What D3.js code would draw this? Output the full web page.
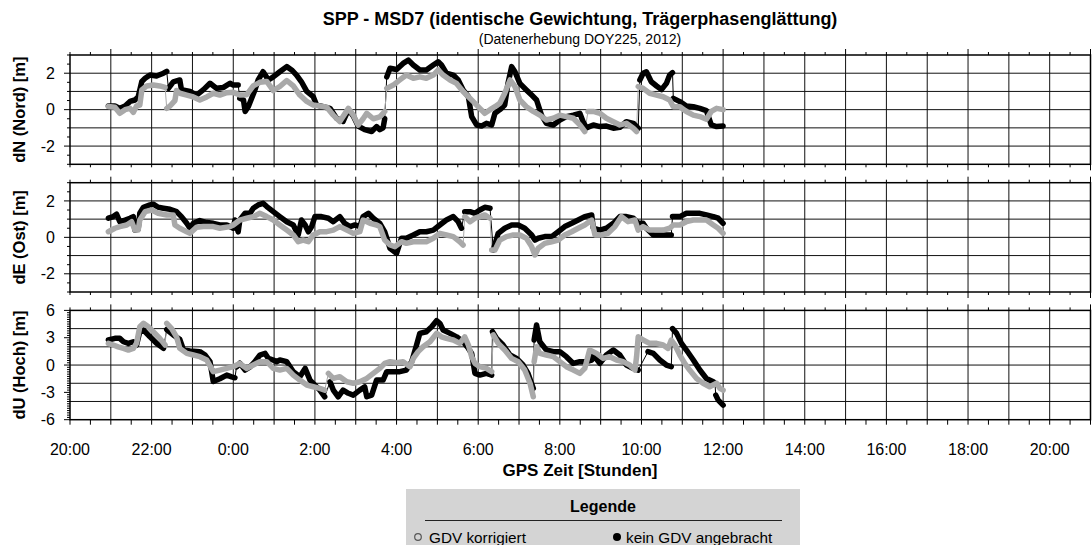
<!DOCTYPE html>
<html>
<head>
<meta charset="utf-8">
<script src="https://cdn.jsdelivr.net/npm/d3@7"></script>
<style>
  html, body { margin: 0; padding: 0; background: #fff; }
  svg { display: block; font-family: "Liberation Sans", Arial, sans-serif; }
</style>
</head>
<body>
<svg id="chart" width="1092" height="545"></svg>
<script>
// Zeit in Stunden bezogen auf 0:00 (DOY225); negative Werte = Vortag
// null trennt zusammenhängende Abschnitte (Sprünge werden dünn verbunden)

// dN (Nord)
const nordGrau = [
  [-3.06,0.17],[-2.90,0.13],[-2.78,-0.2],[-2.65,0],[-2.53,0.07],[-2.45,-0.15],[-2.37,0.2],[-2.29,0.25],
  [-2.24,1.08],[-2.12,1.3],[-1.96,1.35],[-1.80,1.3],[-1.67,1.22], null,
  [-1.63,0.07],[-1.55,0.2],[-1.47,0.4],[-1.43,0.5],[-1.39,1.05],[-1.31,0.9],[-1.14,0.8],[-0.98,0.7],
  [-0.82,0.53],[-0.65,0.7],[-0.49,0.9],[-0.33,0.8],[-0.16,0.93],[0,0.95],[0.16,0.8],[0.33,0.82],
  [0.49,1.3],[0.65,1.5],[0.82,1.55],[0.98,1.05],[1.14,1.27],[1.31,1.6],[1.47,1.3],[1.63,0.8],
  [1.80,0.45],[1.96,0.25],[2.12,0.2],[2.29,0.13],[2.45,-0.3],[2.61,-0.65],[2.82,0.07],[2.94,-0.3],
  [3.06,-0.85],[3.18,-0.5],[3.27,-0.2],[3.43,-0.5],[3.59,-0.4],[3.71,-0.1], null,
  [3.76,1.17],[3.92,1.35],[4.08,1.63],[4.24,1.9],[4.41,1.72],[4.57,1.8],[4.73,1.72],[4.90,1.9],
  [5.02,2.18],[5.14,1.9],[5.31,1.63],[5.47,1.44],[5.63,1.0],[5.76,0.71],[5.88,0.44],[6.04,0.07],
  [6.16,-0.2],[6.29,0],[6.41,0.16],[6.53,0.35],[6.65,0.9],[6.78,1.63],[6.90,1.27],[7.02,0.53],
  [7.18,0.16],[7.35,-0.1],[7.51,-0.3],[7.67,-0.57],[7.84,-0.47],[8.0,-0.3],[8.16,-0.38],[8.33,-0.47],
  [8.49,-0.84],[8.61,-1.2], null,
  [8.69,-0.1],[8.82,-0.1],[8.98,-0.2],[9.14,-0.47],[9.31,-0.66],[9.47,-0.84],[9.63,-0.75],[9.80,-1.02],
  [9.88,-1.2], null,
  [9.92,1.27],[10.04,1.17],[10.20,0.9],[10.37,0.8],[10.53,0.71],[10.69,0.53],[10.78,0.16],[10.94,0.16],
  [11.10,-0.1],[11.27,-0.3],[11.43,-0.38],[11.59,-0.53],[11.71,-0.1],[11.84,0.07],[12.0,0.0]
];
const nordKein = [
  [-3.06,0.2],[-2.90,0.2],[-2.78,0.07],[-2.65,0.2],[-2.53,0.45],[-2.41,0.53],[-2.33,0.7],
  [-2.24,1.55],[-2.16,1.72],[-2.04,1.9],[-1.88,1.85],[-1.71,2.0],[-1.63,2.1], null,
  [-1.59,1.17],[-1.47,1.53],[-1.31,1.63],[-1.27,1.1],[-1.06,1.0],[-0.90,0.8],[-0.73,1.1],[-0.57,1.45],
  [-0.41,1.17],[-0.24,1.22],[-0.08,1.45],[0,1.35],[0.12,1.35], null,
  [0.16,0.62],[0.25,0.53],[0.29,-0.1],[0.37,0.17],[0.45,0.62],[0.53,1.08],[0.61,1.63],[0.73,2.08],
  [0.86,1.63],[0.98,1.8],[1.14,2.08],[1.31,2.36],[1.43,2.18],[1.55,1.9],[1.67,1.53],[1.80,1.0],
  [1.96,0.71],[2.04,0.26],[2.20,0.16],[2.37,0.07],[2.53,-0.47],[2.69,-0.65],[2.82,0.0],[2.94,-0.35],
  [3.06,-0.9],[3.22,-1.1],[3.39,-1.2],[3.51,-0.93],[3.59,-1.1],[3.67,-1.0],[3.71,-0.5], null,
  [3.76,1.8],[3.84,2.27],[4.0,2.2],[4.16,2.54],[4.29,2.72],[4.41,2.45],[4.57,2.18],[4.73,2.18],
  [4.90,2.45],[5.02,2.63],[5.10,2.45],[5.22,2.0],[5.39,1.9],[5.51,1.63],[5.63,1.08],[5.76,0.71],
  [5.84,-0.38],[5.96,-0.84],[6.08,-0.9],[6.20,-0.75],[6.33,-0.84],[6.41,-0.2],[6.53,0],[6.65,0.26],
  [6.73,1.44],[6.82,2.36],[6.90,2.08],[7.02,1.44],[7.18,1.08],[7.31,0.8],[7.43,0.53],[7.55,-0.3],
  [7.67,-0.75],[7.84,-0.84],[8.0,-0.57],[8.16,-0.38],[8.33,-0.3],[8.49,-0.2],[8.57,-0.66],[8.65,-1.0],
  [8.82,-0.84],[8.98,-0.93],[9.14,-0.9],[9.31,-1.02],[9.47,-0.97],[9.63,-0.66],[9.80,-0.75],[9.92,-1.02], null,
  [9.96,1.63],[10.04,2.0],[10.12,2.08],[10.24,1.53],[10.37,1.3],[10.49,1.1],[10.61,1.44],[10.69,1.9],
  [10.76,2.03], null,
  [10.78,0.62],[10.94,0.44],[11.10,0.2],[11.27,0.16],[11.43,0.07],[11.59,-0.05],[11.71,-0.84],[11.84,-0.93],[12.0,-0.9]
];

// dE (Ost)
const ostGrau = [
  [-3.06,0.31],[-2.90,0.5],[-2.78,0.59],[-2.61,0.68],[-2.49,0.86],[-2.41,0.4],[-2.33,0.4],[-2.29,0.95],
  [-2.16,1.41],[-2.0,1.5],[-1.84,1.32],[-1.63,1.23],[-1.47,1.23],[-1.43,0.68],[-1.31,0.5],[-1.14,0.31],
  [-1.06,0.22],[-0.90,0.55],[-0.73,0.59],[-0.49,0.59],[-0.33,0.5],[-0.08,0.59],[0,0.68],[0.16,0.95],
  [0.33,1.05],[0.49,1.14],[0.65,1.32],[0.82,1.14],[0.98,0.95],[1.14,0.68],[1.31,0.4],[1.47,0.13],
  [1.59,-0.24],[1.71,-0.15],[1.84,-0.24],[1.96,0.13],[2.12,0.31],[2.29,0.31],[2.45,0.4],[2.61,0.59],
  [2.78,0.4],[2.94,0.22],[3.10,0.31],[3.18,0.95],[3.35,0.77],[3.51,0.68],[3.59,0.59],[3.71,-0.15],
  [3.84,-0.42],[3.96,-0.51],[4.12,-0.24],[4.24,-0.33],[4.41,-0.24],[4.57,-0.24],[4.73,-0.24],[4.90,-0.05],
  [5.06,0.22],[5.22,0.13],[5.39,0.04],[5.55,-0.24],[5.63,-0.42], null,
  [5.67,1.14],[5.80,0.86],[5.92,1.05],[6.04,1.14],[6.16,1.23],[6.29,1.05], null,
  [6.33,-0.7],[6.41,-0.7],[6.53,-0.15],[6.69,0.04],[6.86,0.13],[7.02,0.13],[7.18,-0.05],[7.31,-0.51],
  [7.39,-0.97],[7.47,-0.6],[7.63,-0.33],[7.80,-0.24],[7.96,-0.15],[8.12,0.13],[8.29,0.31],[8.45,0.5],
  [8.61,0.68],[8.78,0.95],[8.86,0.13],[9.02,0.13],[9.18,0.22],[9.35,0.59],[9.51,1.14],[9.67,0.86],
  [9.84,0.95],[9.92,0.4],[10.04,0.59],[10.20,0.4],[10.37,0.4],[10.53,0.4],[10.69,0.5],[10.78,0.68],
  [10.94,0.68],[11.10,0.86],[11.27,0.95],[11.43,0.95],[11.59,0.95],[11.76,0.68],[11.88,0.5],[12.0,0.22]
];
const ostKein = [
  [-3.06,1.05],[-2.94,1.14],[-2.86,1.27],[-2.78,0.86],[-2.65,0.95],[-2.53,1.05],[-2.45,1.14],[-2.41,0.4],
  [-2.33,0.45],[-2.29,1.32],[-2.20,1.65],[-2.04,1.78],[-1.96,1.82],[-1.84,1.65],[-1.71,1.6],[-1.55,1.54],
  [-1.39,1.41],[-1.27,1.14],[-1.14,0.77],[-1.06,0.5],[-0.98,0.77],[-0.82,0.92],[-0.65,0.81],[-0.49,0.77],
  [-0.33,0.68],[-0.16,0.68],[0,0.5],[0.04,0.95],[0.12,0.3],[0.16,0.95],[0.29,1.32],[0.41,1.32],
  [0.49,1.6],[0.61,1.78],[0.73,1.87],[0.82,1.69],[0.98,1.41],[1.14,1.14],[1.31,0.86],[1.47,0.68],
  [1.59,0.13],[1.67,0.95],[1.76,0.68],[1.84,0.3],[1.92,0.59],[2.0,1.14],[2.16,1.14],[2.33,1.05],
  [2.45,0.86],[2.61,1.14],[2.73,0.77],[2.86,0.59],[2.98,0.68],[3.10,0.59],[3.18,1.14],[3.31,1.32],
  [3.43,1.05],[3.59,0.77],[3.71,0.3],[3.84,-0.6],[4.0,-0.88],[4.12,-0.05],[4.24,-0.05],[4.41,0.13],
  [4.57,0.31],[4.73,0.31],[4.90,0.4],[5.06,0.68],[5.22,0.95],[5.39,1.14],[5.51,0.86],[5.59,0.5], null,
  [5.67,1.41],[5.80,1.41],[5.92,1.32],[6.04,1.5],[6.16,1.65],[6.29,1.6], null,
  [6.37,-0.7],[6.49,0.22],[6.65,0.5],[6.82,0.68],[6.98,0.68],[7.14,0.5],[7.31,0.13],[7.39,-0.15],
  [7.47,-0.05],[7.63,0.04],[7.80,0.04],[7.96,0.31],[8.12,0.59],[8.29,0.77],[8.45,0.95],[8.61,1.14],
  [8.78,1.23],[8.82,0.5],[8.98,0.4],[9.14,0.5],[9.31,0.77],[9.47,1.14],[9.63,1.14],[9.80,1.05],
  [9.92,0.77],[10.04,0.77],[10.12,0.5],[10.29,0.13],[10.45,0.13],[10.61,0.13],[10.73,0.13], null,
  [10.76,1.14],[10.94,1.14],[11.10,1.32],[11.27,1.32],[11.43,1.32],[11.59,1.23],[11.76,1.14],[11.88,1.05],[12.0,0.77]
];

// dU (Hoch)
const hochGrau = [
  [-3.06,2.38],[-2.94,2.2],[-2.82,2.0],[-2.69,1.83],[-2.57,1.65],[-2.45,1.83],[-2.37,2.38],[-2.29,4.2],
  [-2.20,4.58],[-2.08,4.2],[-1.96,3.66],[-1.80,2.93],[-1.67,2.2], null,
  [-1.63,4.58],[-1.51,4.0],[-1.39,3.1],[-1.31,1.83],[-1.14,1.28],[-0.98,1.1],[-0.82,0.92],[-0.65,0.55],
  [-0.49,-0.73],[-0.33,-0.55],[-0.16,-0.37],[0,-0.18],[0.16,0.18],[0.33,-0.37],[0.49,0],[0.65,0.37],
  [0.82,0.37],[0.98,-0.37],[1.14,-0.55],[1.31,-0.37],[1.47,-1.1],[1.63,-1.65],[1.80,-2.2],[1.96,-2.38],
  [2.12,-2.56],[2.24,-2.75], null,
  [2.33,-0.92],[2.45,-1.47],[2.61,-1.28],[2.78,-1.83],[2.94,-2.0],[3.10,-1.83],[3.27,-1.47],[3.43,-0.92],
  [3.59,-0.37],[3.71,0.18],[3.84,0.37],[4.0,0.26],[4.16,0.37],[4.33,-0.18],[4.41,0.73],[4.53,1.47],
  [4.65,2.0],[4.82,2.56],[4.98,3.48],[5.10,3.1],[5.22,2.93],[5.39,2.75],[5.55,2.38],[5.67,3.1],
  [5.76,2.2],[5.84,0.92],[5.92,0.18],[6.04,-0.18],[6.20,-0.37],[6.33,-0.73], null,
  [6.37,3.3],[6.49,2.38],[6.65,1.65],[6.82,0.73],[6.98,0.37],[7.14,-0.55],[7.27,-2.0],[7.35,-3.48], null,
  [7.37,0.37],[7.43,2.0],[7.51,1.28],[7.67,1.1],[7.84,0.92],[8.0,0.37],[8.16,-0.18],[8.33,-0.55],
  [8.49,-0.92],[8.61,-0.37],[8.73,1.65],[8.90,1.28],[9.06,0.73],[9.22,0.92],[9.39,0.55],[9.55,0.37],
  [9.71,0],[9.84,-0.55],[9.88,0.92],[9.92,3.1],[10.04,2.75],[10.20,2.38],[10.37,2.38],[10.53,2.2],
  [10.65,1.83],[10.73,2.75],[10.82,2.2],[10.94,1.1],[11.06,0.18],[11.18,-0.55],[11.35,-1.47],[11.51,-2.0],
  [11.67,-2.38],[11.84,-2.0],[11.92,-2.56],[12.0,-2.75]
];
const hochKein = [
  [-3.06,2.75],[-2.90,2.93],[-2.78,2.93],[-2.69,2.56],[-2.57,2.38],[-2.45,2.56],[-2.37,2.2],[-2.29,3.66],
  [-2.20,3.85],[-2.04,3.1],[-1.88,2.4],[-1.71,1.83], null,
  [-1.63,3.9],[-1.47,3.3],[-1.31,2.82],[-1.22,1.65],[-1.06,1.54],[-0.82,1.47],[-0.69,1.1],[-0.57,0.37],
  [-0.49,-1.8],[-0.33,-1.5],[-0.16,-1.1],[-0.04,-1.3],[0.04,-1.4], null,
  [0.08,-0.2],[0.16,0.2],[0.29,-0.55],[0.41,-0.2],[0.53,0.37],[0.65,1.1],[0.78,1.28],[0.86,0.73],
  [0.98,0.55],[1.06,0.37],[1.14,0.55],[1.31,0.37],[1.47,-0.73],[1.63,-1.28],[1.76,-0.37],[1.88,-1.65],
  [2.0,-2.2],[2.12,-2.75],[2.24,-3.48], null,
  [2.37,-1.83],[2.45,-2.75],[2.57,-3.48],[2.69,-2.75],[2.82,-3.1],[2.94,-3.3],[3.10,-2.75],[3.22,-2.4],
  [3.27,-3.48],[3.39,-3.3],[3.51,-1.65],[3.67,-1.65],[3.76,-0.73],[3.92,-0.73],[4.08,-0.73],[4.24,-0.55],
  [4.37,0.37],[4.49,2.2],[4.57,3.48],[4.73,3.66],[4.86,4.2],[4.98,4.87],[5.06,4.58],[5.14,3.85],
  [5.31,3.48],[5.47,3.1],[5.63,2.56],[5.76,1.83],[5.84,1.28],[5.92,-0.92],[6.04,-1.1],[6.20,-0.92],
  [6.33,-1.1], null,
  [6.35,3.66],[6.45,2.93],[6.61,2.2],[6.78,1.1],[6.94,0.73],[7.10,0],[7.22,-0.92],[7.35,-2.56], null,
  [7.37,2.75],[7.43,4.4],[7.51,2.56],[7.67,1.65],[7.84,1.47],[8.0,1.47],[8.16,0.92],[8.33,0.18],
  [8.49,0.37],[8.65,0.37],[8.78,0.55],[8.82,1.1],[8.98,0.18],[9.14,1.1],[9.31,1.65],[9.47,1.1],
  [9.63,0],[9.80,-0.37],[9.92,-0.55], null,
  [10.16,1.47],[10.29,1.28],[10.45,0.55],[10.61,0],[10.73,-0.18], null,
  [10.76,4.0],[10.86,3.48],[10.98,2.38],[11.10,1.65],[11.27,0.55],[11.43,-0.55],[11.59,-1.47],[11.76,-1.83],
  [11.80,-2.0], null,
  [11.82,-3.3],[11.88,-3.85],[12.0,-4.4]
];

// Achsen
const zeitBereich = [-4, 21];
const zeitLabels = d3.range(-4, 21, 2);
const nordTicks = [-2, 0, 2];
const ostTicks = [-2, 0, 2];
const hochTicks = [-6, -3, 0, 3, 6];

const titel = "SPP - MSD7 (identische Gewichtung, Trägerphasenglättung)";
const untertitel = "(Datenerhebung DOY225, 2012)";
const xTitel = "GPS Zeit [Stunden]";
const legendeTitel = "Legende";
const legendeGrau = "GDV korrigiert";
const legendeKein = "kein GDV angebracht";

const panels = [
  { label: "dN (Nord) [m]", domain: [-3, 3], ticks: nordTicks, grid: 1, minor: 0.5, grau: nordGrau, kein: nordKein },
  { label: "dE (Ost) [m]",  domain: [-3, 3], ticks: ostTicks,  grid: 1, minor: 0.5, grau: ostGrau,  kein: ostKein },
  { label: "dU (Hoch) [m]", domain: [-6, 6], ticks: hochTicks, grid: 2, minor: 0.25, grau: hochGrau, kein: hochKein }
];

const svg = d3.select("#chart");
const left = 70, right = 1090.5;
const panelTop = 55, panelH = 109.3, panelStep = 127.7;
const grauFarbe = "#a9a9a9";

const x = d3.scaleLinear().domain(zeitBereich).range([left, right]);
const fmtZeit = h => `${((h % 24) + 24) % 24}:00`;

svg.append("text")
  .attr("x", 580).attr("y", 25)
  .attr("text-anchor", "middle")
  .attr("font-size", 18).attr("font-weight", "bold")
  .text(titel);
svg.append("text")
  .attr("x", 580).attr("y", 43.5)
  .attr("text-anchor", "middle")
  .attr("font-size", 14)
  .text(untertitel);

const halbStunden = d3.range(zeitBereich[0], zeitBereich[1] + 0.001, 0.5);
const stunden = d3.range(zeitBereich[0] + 1, zeitBereich[1], 1);

panels.forEach((p, i) => {
  const top = panelTop + i * panelStep;
  const bottom = top + panelH;
  const y = d3.scaleLinear().domain(p.domain).range([bottom, top]);
  const g = svg.append("g");
  const isLast = i === panels.length - 1;

  // Gitternetz
  g.selectAll(".vg").data(stunden).join("line")
    .attr("x1", d => x(d)).attr("x2", d => x(d))
    .attr("y1", top).attr("y2", bottom)
    .attr("stroke", "#111").attr("stroke-width", 1);
  const hGrid = d3.range(p.domain[0] + p.grid, p.domain[1], p.grid);
  g.selectAll(".hg").data(hGrid).join("line")
    .attr("x1", left).attr("x2", right)
    .attr("y1", d => y(d)).attr("y2", d => y(d))
    .attr("stroke", "#111").attr("stroke-width", 1);

  // Zeit-Ticks oben und unten
  const tickLen = d => (Math.abs(d % 3) < 1e-6 ? 6 : 3);
  g.selectAll(".tt").data(halbStunden).join("line")
    .attr("x1", d => x(d)).attr("x2", d => x(d))
    .attr("y1", top).attr("y2", d => top - tickLen(d))
    .attr("stroke", "#000").attr("stroke-width", 1);
  g.selectAll(".tb").data(halbStunden).join("line")
    .attr("x1", d => x(d)).attr("x2", d => x(d))
    .attr("y1", bottom).attr("y2", d => bottom + (isLast ? 5 : tickLen(d)))
    .attr("stroke", "#000").attr("stroke-width", 1);

  // y-Achse links
  const minor = d3.range(p.domain[0], p.domain[1] + 1e-6, p.minor);
  g.selectAll(".ym").data(minor).join("line")
    .attr("x1", left).attr("x2", d => left - (p.ticks.some(t => Math.abs(t - d) < 1e-6) ? 6 : 3))
    .attr("y1", d => y(d)).attr("y2", d => y(d))
    .attr("stroke", "#000").attr("stroke-width", 1);
  g.selectAll(".yl").data(p.ticks).join("text")
    .attr("x", 55).attr("y", d => y(d) + 5.7)
    .attr("text-anchor", "end")
    .attr("font-size", 16)
    .text(d => d);
  g.append("text")
    .attr("transform", `translate(25,${(top + bottom) / 2}) rotate(-90)`)
    .attr("text-anchor", "middle")
    .attr("font-size", 16.5).attr("font-weight", "bold")
    .text(p.label);

  // Daten: dünne Verbindung über alle Punkte, dicke Linie je Abschnitt
  const line = d3.line().defined(d => d !== null).x(d => x(d[0])).y(d => y(d[1]));
  const thin = d3.line().x(d => x(d[0])).y(d => y(d[1]));
  g.append("path").attr("d", thin(p.kein.filter(d => d)))
    .attr("fill", "none").attr("stroke", "#000").attr("stroke-width", 1);
  g.append("path").attr("d", thin(p.grau.filter(d => d)))
    .attr("fill", "none").attr("stroke", grauFarbe).attr("stroke-width", 1);
  g.append("path").attr("d", line(p.kein))
    .attr("fill", "none").attr("stroke", "#000").attr("stroke-width", 5.5)
    .attr("stroke-linejoin", "round").attr("stroke-linecap", "round");
  g.append("path").attr("d", line(p.grau))
    .attr("fill", "none").attr("stroke", grauFarbe).attr("stroke-width", 5.5)
    .attr("stroke-linejoin", "round").attr("stroke-linecap", "round");

  // Rahmen
  g.append("rect")
    .attr("x", left).attr("y", top)
    .attr("width", right - left).attr("height", panelH)
    .attr("fill", "none").attr("stroke", "#000").attr("stroke-width", 1.5);

  if (isLast) {
    g.selectAll(".xl").data(zeitLabels).join("text")
      .attr("x", d => x(d)).attr("y", bottom + 35)
      .attr("text-anchor", "middle")
      .attr("font-size", 16)
      .text(fmtZeit);
  }
});

svg.append("text")
  .attr("x", 580).attr("y", 476)
  .attr("text-anchor", "middle")
  .attr("font-size", 17).attr("font-weight", "bold")
  .text(xTitel);

// Legende
const lg = svg.append("g");
lg.append("rect")
  .attr("x", 406).attr("y", 489).attr("width", 394).attr("height", 60)
  .attr("fill", "#d4d4d4");
lg.append("text")
  .attr("x", 603).attr("y", 512)
  .attr("text-anchor", "middle")
  .attr("font-size", 16).attr("font-weight", "bold")
  .text(legendeTitel);
lg.append("line")
  .attr("x1", 425).attr("x2", 782).attr("y1", 520.5).attr("y2", 520.5)
  .attr("stroke", "#222").attr("stroke-width", 1.2);
lg.append("circle")
  .attr("cx", 418).attr("cy", 537).attr("r", 3.3)
  .attr("fill", "none").attr("stroke", "#555").attr("stroke-width", 1.2);
lg.append("text")
  .attr("x", 429).attr("y", 542.5)
  .attr("font-size", 15.3)
  .text(legendeGrau);
lg.append("circle")
  .attr("cx", 617).attr("cy", 537).attr("r", 4)
  .attr("fill", "#000");
lg.append("text")
  .attr("x", 626).attr("y", 542.5)
  .attr("font-size", 15.3)
  .text(legendeKein);
</script>
</body>
</html>
